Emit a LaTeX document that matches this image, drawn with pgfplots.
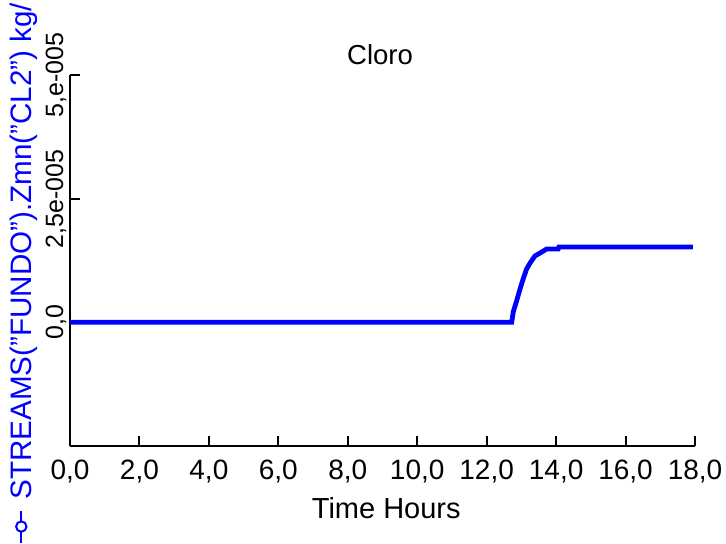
\documentclass[border=0pt]{standalone}
\usepackage{fontspec}
\setmainfont{Liberation Sans}
\usepackage{pgfplots}
\pgfplotsset{compat=1.18}
\definecolor{plotblue}{RGB}{0,0,255}
\begin{document}
\begin{tikzpicture}
\begin{axis}[
  name=ax,
  at={(0,0)}, anchor=south west,
  scale only axis,
  width=312.5pt, height=185.5pt,
  xmin=0, xmax=18, ymin=-2.5e-5, ymax=5e-5,
  axis lines*=left,
  axis line style={line width=1pt, black},
  every tick/.style={line width=1pt, black},
  tick align=inside,
  major tick length=5pt,
  xtick={0,2,4,6,8,10,12,14,16,18},
  xticklabels={{0,0},{2,0},{4,0},{6,0},{8,0},{10,0},{12,0},{14,0},{16,0},{18,0}},
  ytick={0,2.5e-5,5e-5},
  yticklabels={{0,0},{2,5e-005},{5,e-005}},
  scaled y ticks=false,
  xticklabel style={font=\fontsize{14}{16}\selectfont, yshift=-3.3pt},
  yticklabel style={font=\fontsize{12.5}{15}\selectfont, xshift=-3.5pt, rotate=90, anchor=base},
  title={Cloro},
  title style={font=\fontsize{13.75}{16}\selectfont, at={(axis description cs:0.496,1.054)}, anchor=center, yshift=-6pt},
  xlabel={Time Hours},
  xlabel style={font=\fontsize{14.5}{17}\selectfont, at={(axis description cs:0.506,-0.167)}, anchor=center},
  ylabel={\tikz[baseline]{\draw[line width=1pt] (0,0.35em)--(16pt,0.35em); \draw[line width=1pt,fill=white] (8pt,0.35em) circle (2.6pt);}\hspace{5pt}STREAMS("FUNDO").Zmn("CL2") kg/kg},
  ylabel style={font=\fontsize{14.8}{17}\selectfont, text=plotblue, color=plotblue, inner sep=0pt, at={(axis description cs:-0.0736,-0.264)}, rotate=0, anchor=west},
  clip=false,
]
\addplot[color=plotblue, line width=2.4pt] coordinates {
(0,0)
(12.72,0)
(12.77,0.224e-5)
(12.86,0.427e-5)
(12.96,0.671e-5)
(13.05,0.874e-5)
(13.15,1.077e-5)
(13.25,1.199e-5)
(13.39,1.341e-5)
(13.54,1.402e-5)
(13.73,1.484e-5)
(14.06,1.484e-5)
(14.08,1.524e-5)
(17.94,1.524e-5)
};
\end{axis}
\pgfresetboundingbox
\useasboundingbox (-35pt,-49pt) rectangle (328pt,223pt);
\end{tikzpicture}
\end{document}
